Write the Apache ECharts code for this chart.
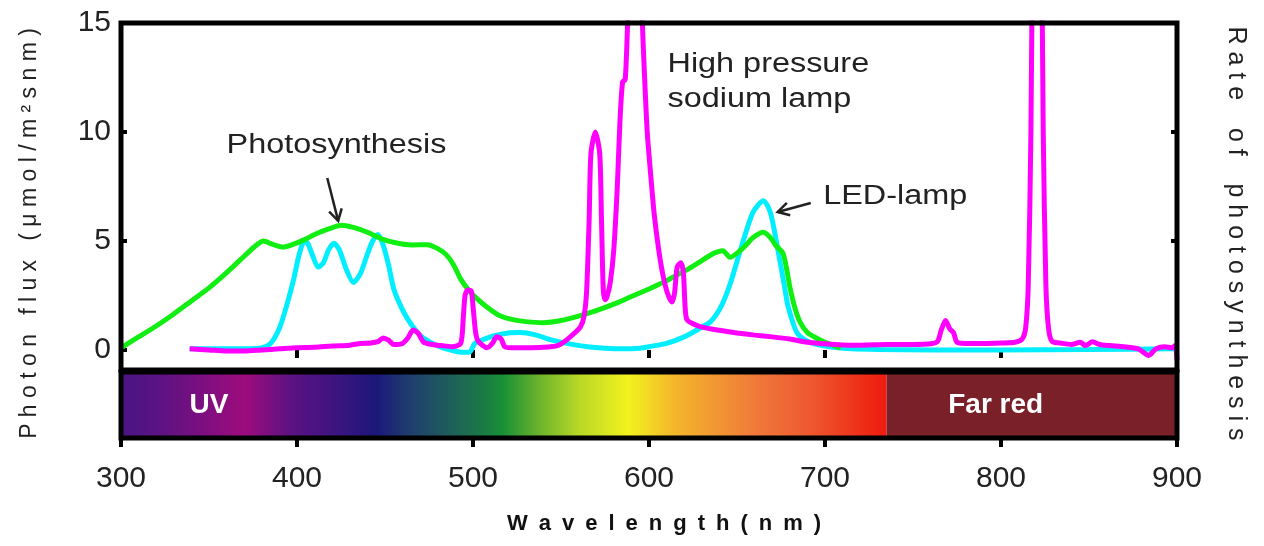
<!DOCTYPE html>
<html><head><meta charset="utf-8">
<script src="https://cdn.jsdelivr.net/npm/echarts@6/dist/echarts.min.js"></script>
<style>html,body{margin:0;padding:0;background:#fff}#c{width:1264px;height:546px}</style>
</head><body><div id="c"></div>
<script>
// ---------- data (wavelength in nm, photon flux) ----------
const photoNm  = [300,310,320,330,340,350,360,370,376,381,386,392,398,404,410,418,425,432,440,448,456,465,474,480,485,489,493,498,503,509,515,522,530,540,550,560,570,580,590,600,608,615,622,630,636,639,642,646,651,655,659,665,669,672,676,678,680,683,686,690,695,700,705,709];
const photoVal = [0.1,0.6,1.1,1.65,2.25,2.85,3.55,4.3,4.75,5.0,4.85,4.72,4.85,5.05,5.3,5.55,5.72,5.62,5.4,5.1,4.92,4.82,4.83,4.65,4.35,3.9,3.25,2.7,2.3,1.9,1.58,1.4,1.3,1.25,1.35,1.55,1.8,2.1,2.45,2.8,3.1,3.4,3.7,4.1,4.4,4.5,4.55,4.25,4.5,4.8,5.15,5.4,5.15,4.8,4.45,3.8,2.9,1.9,1.25,0.8,0.55,0.35,0.2,0.1];

const ledNm  = [339,350,360,370,380,385,390,394,398,401,404,406,409,412,415,418,421,424,428,432,436,440,443,446,449,452,455,459,463,467,471,476,481,487,493,498,501,505,512,520,527,535,545,555,565,575,585,595,600,610,620,628,635,641,646,652,659,665,669,673,677,679,684,690,697,705,715,730,760,800,850,900];
const ledVal = [0.05,0.05,0.05,0.05,0.1,0.3,1.0,2.0,3.2,4.3,4.95,4.9,4.3,3.8,4.0,4.6,4.9,4.6,3.7,3.1,3.5,4.4,5.0,5.3,4.8,3.9,2.8,2.0,1.4,0.95,0.6,0.35,0.15,0.0,-0.1,-0.1,0.3,0.45,0.65,0.78,0.8,0.7,0.45,0.28,0.15,0.08,0.05,0.08,0.15,0.3,0.6,0.95,1.3,2.0,3.0,4.6,6.3,6.85,6.3,4.7,2.9,2.0,0.8,0.4,0.22,0.12,0.05,0.02,0.0,0.0,0.02,0.05];

const hpsNm  = [339,350,360,370,380,390,400,410,420,430,436,442,446,449,452,455,460,463,466,469,472,477,482,488,493,494.5,495.5,497,499,500,501.5,503,508,511,513.5,516,518,522,530,540,548,553,558,561,563,564.5,566,567,569.5,572,573,574,575,576,578,580,582,583.5,585,586.5,588,590,594,596,597.5,599,601,603,605.5,608,610.5,613,614.5,616,618,619.5,620.5,621.5,625,630,640,650,660,670,680,690,700,710,720,735,750,760,764,766,768.5,771,773,775,780,790,800,808,812,814,815.5,817,818,820.5,823,824,825.5,827,829,835,840,845,848,852,856,862,870,878,884,888,893,897,899,900];
const hpsVal = [0.05,0.0,-0.05,-0.05,0.0,0.05,0.1,0.12,0.18,0.22,0.3,0.32,0.38,0.55,0.45,0.25,0.3,0.55,0.92,0.75,0.35,0.25,0.2,0.15,0.3,1.5,2.5,2.75,2.7,2.0,0.8,0.4,0.1,0.3,0.6,0.5,0.15,0.1,0.1,0.12,0.2,0.45,0.8,1.05,1.5,2.6,6.0,9.0,10.0,9.0,6.0,2.8,2.3,2.4,3.1,4.6,7.5,10.5,12.3,12.4,15.5,22,22,15.5,12.5,10,8.0,6.2,4.6,3.4,2.6,2.2,2.6,3.8,4.0,3.6,2.0,1.4,1.2,1.05,0.9,0.78,0.68,0.6,0.5,0.35,0.28,0.23,0.22,0.25,0.25,0.28,0.4,0.9,1.35,0.95,0.8,0.35,0.3,0.3,0.32,0.35,0.5,1.0,3.0,10,20,40,20,10,3.0,1.0,0.4,0.3,0.25,0.35,0.2,0.38,0.25,0.2,0.15,0.05,-0.25,0.05,0.15,0.1,0.2,-0.45];

// ---------- axes ----------
const xTicks = [300,400,500,600,700,800,900];
const yTicks = [0,5,10,15];
const yTicksRight = [5,10];

// ---------- spectrum band ----------
const spectrumNm = [300,320,345,370,397,423,445,462,484,506,517,538,560,588,614,660,692,724,735];
const spectrumColors = ['#4a1582','#5a1383','#7a0f80','#9e0c7e','#5b1282','#3c1480','#1c187a','#1f3a70','#1f5a5e','#1b7a45','#189036','#6db42c','#b8d727','#f2f21e','#f4b72b','#f07a3a','#ee5830','#ee2a15','#ee1b10'];
const farRedRange = [735, 900];
const farRedColor = '#7a2029';
const bandLabels = ['UV', 'Far red'];
const bandLabelNm = [350, 797];

// ---------- annotations (data coordinates) ----------
const noteTexts = ['Photosynthesis', 'High pressure\nsodium lamp', 'LED-lamp'];
const noteNm    = [360, 610.5, 699];
const noteVal   = [9.4, 12.3, 7.06];
const arrowFrom = [[417.2, 7.89], [691.9, 6.74]];
const arrowTo   = [[423.4, 5.92], [673.1, 6.33]];

const FONT = 'Liberation Sans';
const spaced = (s, sep) => s.split('').join(sep);
const zip = (a, b) => a.map((x, i) => [x, b[i]]);
const first = spectrumNm[0], last = spectrumNm[spectrumNm.length - 1];
const stops = spectrumNm.map((nm, i) => ({ offset: (nm - first) / (last - first), color: spectrumColors[i] }));

const chart = echarts.init(document.getElementById('c'));
const lineSeries = (name, nm, val, color) => ({
  name, type: 'line', xAxisIndex: 0, yAxisIndex: 0,
  data: zip(nm, val), showSymbol: false, smooth: 0.25, clip: true,
  lineStyle: { width: 5, color }, itemStyle: { color }
});

chart.setOption({
  animation: false,
  textStyle: { fontFamily: FONT },
  grid: [
    { left: 121, right: 87, top: 23, height: 347, show: true, borderColor: '#000', borderWidth: 5, backgroundColor: 'transparent', z: 10 },
    { left: 121, right: 87, top: 372, height: 66, show: true, borderColor: '#000', borderWidth: 5, backgroundColor: 'transparent', z: 10 },
    { left: 121, right: 87, top: 26, height: 415, show: false }
  ],
  xAxis: [
    { gridIndex: 0, type: 'value', position: 'top', min: 300, max: 900, interval: 100,
      axisLine: { show: false }, splitLine: { show: false }, axisLabel: { show: false },
      axisTick: { inside: true, length: 8, lineStyle: { width: 4, color: '#000' } } },
    { gridIndex: 1, type: 'value', position: 'bottom', min: 300, max: 900, interval: 100,
      axisLine: { show: false }, splitLine: { show: false },
      axisTick: { inside: false, length: 9, lineStyle: { width: 4, color: '#000' } },
      axisLabel: { fontSize: 30, color: '#222', margin: 26, customValues: xTicks },
      name: spaced('Wavelength(nm)', '\u2002'), nameLocation: 'middle', nameGap: 75,
      nameTextStyle: { fontSize: 22, fontWeight: 'bold', color: '#111', padding: [0, 0, 0, 30] } },
    { gridIndex: 2, type: 'value', min: 300, max: 900, show: false }
  ],
  yAxis: [
    { gridIndex: 0, type: 'value', min: -0.92, max: 15,
      axisLine: { show: false }, splitLine: { show: false },
      axisTick: { inside: true, length: 6, customValues: yTicks, lineStyle: { width: 4, color: '#000' } },
      axisLabel: { fontSize: 30, color: '#222', margin: 10, customValues: yTicks } },
    { gridIndex: 0, type: 'value', position: 'right', min: -0.92, max: 15,
      axisLine: { show: false }, splitLine: { show: false }, axisLabel: { show: false },
      axisTick: { inside: true, length: 6, customValues: yTicksRight, lineStyle: { width: 4, color: '#000' } } },
    { gridIndex: 1, type: 'value', min: 0, max: 1, show: false },
    { gridIndex: 2, type: 'value', position: 'left', min: 0, max: 1,
      axisLine: { show: false }, axisTick: { show: false }, axisLabel: { show: false }, splitLine: { show: false },
      name: 'P h o t o n   f l u x   ( μ m o l / m ² s n m )', nameLocation: 'middle', nameRotate: 90, nameGap: 80,
      nameTextStyle: { fontSize: 23, color: '#222' } },
    { gridIndex: 2, type: 'value', position: 'right', min: 0, max: 1,
      axisLine: { show: false }, axisTick: { show: false }, axisLabel: { show: false }, splitLine: { show: false },
      name: 'R a t e    o f    p h o t o s y n t h e s i s', nameLocation: 'middle', nameRotate: -90, nameGap: 46,
      nameTextStyle: { fontSize: 25, color: '#222' } }
  ],
  series: [
    lineSeries('LED-lamp', ledNm, ledVal, '#00eeff'),
    lineSeries('Photosynthesis', photoNm, photoVal, '#11ee11'),
    lineSeries('High pressure sodium lamp', hpsNm, hpsVal, '#ff00ff'),
    { type: 'scatter', xAxisIndex: 1, yAxisIndex: 2, silent: true,
      data: bandLabelNm.map((nm, i) => ({ value: [nm, 0.5], name: bandLabels[i] })),
      symbolSize: 0, itemStyle: { color: 'rgba(0,0,0,0)' }, label: { show: false },
      markArea: { silent: true, data: [
        [{ xAxis: first, itemStyle: { color: new echarts.graphic.LinearGradient(0, 0, 1, 0, stops), opacity: 1 } }, { xAxis: last }],
        [{ xAxis: farRedRange[0], itemStyle: { color: farRedColor, opacity: 1 } }, { xAxis: farRedRange[1] }]
      ] } }
  ]
});

// annotations placed from data coordinates
const px = p => chart.convertToPixel({ gridIndex: 0 }, p);
const graphics = [];
noteTexts.forEach((t, i) => {
  const p = px([noteNm[i], noteVal[i]]);
  graphics.push({ type: 'text', x: p[0], y: p[1], scaleX: 1.2, z: 20,
    style: { text: t, fontSize: 27, fontFamily: FONT, fill: '#222', align: 'left', verticalAlign: 'middle', lineHeight: 35 } });
});
bandLabels.forEach((t, i) => {
  const p = chart.convertToPixel({ gridIndex: 1 }, [bandLabelNm[i], 0.5]);
  graphics.push({ type: 'text', x: p[0], y: p[1], z: 20,
    style: { text: t, fontSize: 28, fontWeight: 'bold', fontFamily: FONT, fill: '#ffffff', align: 'center', verticalAlign: 'middle' } });
});
arrowFrom.forEach((f, i) => {
  const a = px(f), b = px(arrowTo[i]);
  const ang = Math.atan2(b[1] - a[1], b[0] - a[0]), L = 13, th = Math.PI / 6;
  const pA = [b[0] - L * Math.cos(ang - th), b[1] - L * Math.sin(ang - th)];
  const pB = [b[0] - L * Math.cos(ang + th), b[1] - L * Math.sin(ang + th)];
  graphics.push({ type: 'line', z: 20, shape: { x1: a[0], y1: a[1], x2: b[0], y2: b[1] }, style: { stroke: '#222', lineWidth: 2.5 } });
  graphics.push({ type: 'polyline', z: 20, shape: { points: [pA, b, pB] }, style: { stroke: '#222', lineWidth: 2.5, fill: null } });
});
chart.setOption({ graphic: graphics });
</script>
</body></html>
